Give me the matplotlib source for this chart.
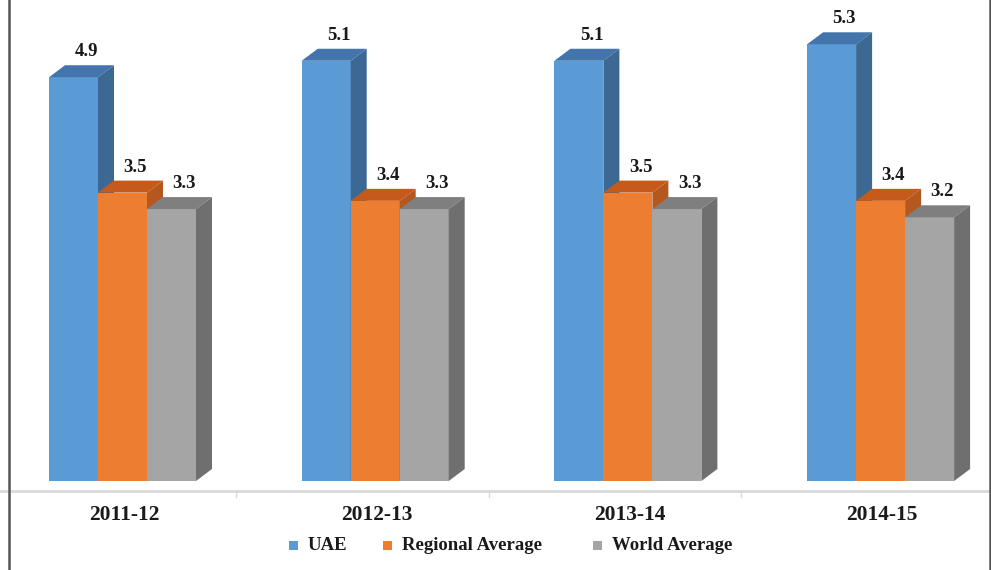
import numpy as np
import matplotlib

matplotlib.use("Agg")
import matplotlib.pyplot as plt
from matplotlib.patches import Polygon, Rectangle
from matplotlib.lines import Line2D

periods = ["2011-12", "2012-13", "2013-14", "2014-15"]
series = ["UAE", "Regional Average", "World Average"]
uae = [4.9, 5.1, 5.1, 5.3]
regional = [3.5, 3.4, 3.5, 3.4]
world = [3.3, 3.3, 3.3, 3.2]

front = ["#5B9BD5", "#ED7D31", "#A5A5A5"]
top = ["#4375AC", "#C55A1A", "#7F7F7F"]
side = ["#3C6894", "#B5581F", "#6F6F6F"]

W, H = 991, 570
fig = plt.figure(figsize=(W / 100, H / 100), dpi=100)
ax = fig.add_axes([0, 0, 1, 1])

# pixel scales: one category = 252.7 px, one unit of value = 82.4 px
px_x, px_y = 252.7, 82.4
x0_px, y0_px = 122.5, 481.0
ax.set_xlim(-x0_px / px_x, (W - x0_px) / px_x)
ax.set_ylim(-(H - y0_px) / px_y, y0_px / px_y)
ax.axis("off")

bw = 49 / px_x          # bar width
dx, dy = 16 / px_x, 12 / px_y   # 3D depth offset

serif = ["Liberation Serif", "DejaVu Serif"]
idx = np.arange(len(periods))

for s, vals in enumerate([uae, regional, world]):
    for i, v in zip(idx, vals):
        xl = i + (s - 1.5) * bw
        xr = xl + bw
        ax.add_patch(Rectangle((xl, 0), bw, v, facecolor=front[s], edgecolor="none", zorder=2 + s))
        ax.add_patch(Polygon([(xl, v), (xl + dx, v + dy), (xr + dx, v + dy), (xr, v)],
                             closed=True, facecolor=top[s], edgecolor="none", zorder=2 + s))
        ax.add_patch(Polygon([(xr, 0), (xr + dx, dy), (xr + dx, v + dy), (xr, v)],
                             closed=True, facecolor=side[s], edgecolor="none", zorder=2 + s))
        ax.text(xl + bw / 2 + 0.8 * dx, v + dy + 0.06, f"{v:.1f}", ha="center", va="bottom",
                fontsize=13.5, fontweight="bold", family=serif, color="#1a1a1a", zorder=10)

# floor line and category ticks
base = -10 / px_y
ax.plot(ax.get_xlim(), [base, base], color="#D9D9D9", lw=2, zorder=1)
for b in idx[:-1] + 0.5 - 13 / px_x:
    ax.plot([b, b], [base, base - 6 / px_y], color="#D9D9D9", lw=1, zorder=1)

for i, p in zip(idx, periods):
    ax.text(i + 0.006, -34 / px_y, p, ha="center", va="center", fontsize=15.5,
            fontweight="bold", family=serif, color="#1a1a1a")

# legend row
leg_y = 1 - 545 / H
marker_x = [289, 383, 593]
for s, name in enumerate(series):
    fig.patches.append(Rectangle((marker_x[s] / W, leg_y - 4.5 / H), 9 / W, 9 / H,
                                 transform=fig.transFigure, facecolor=front[s], edgecolor="none"))
    fig.text((marker_x[s] + 19) / W, leg_y, name, ha="left", va="center", fontsize=13.5,
             fontweight="bold", family=serif, color="#1a1a1a")

# frame sides
for xb in (8.5 / W, 989.5 / W):
    fig.add_artist(Line2D([xb, xb], [0, 1], transform=fig.transFigure, color="#555555", lw=1.8))

fig.savefig("out.png", dpi=100, facecolor="white")
